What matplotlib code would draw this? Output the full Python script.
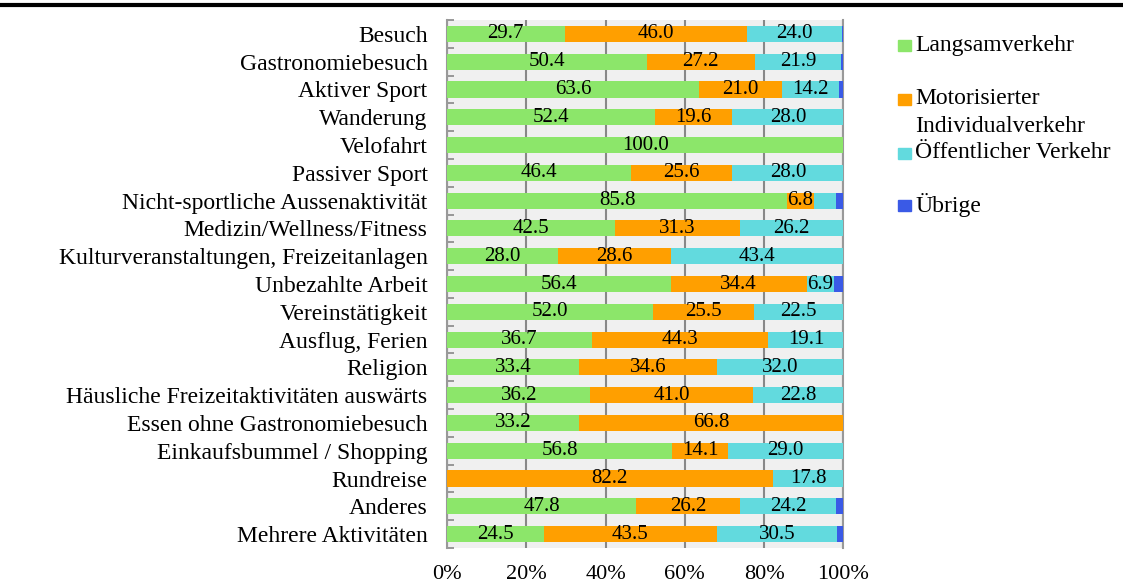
import numpy as np
import matplotlib.pyplot as plt
from matplotlib.lines import Line2D
from matplotlib.patches import Rectangle

plt.rcParams['font.family'] = ['Liberation Serif', 'DejaVu Serif']

categories = ['Besuch', 'Gastronomiebesuch', 'Aktiver Sport', 'Wanderung', 'Velofahrt',
              'Passiver Sport', 'Nicht-sportliche Aussenaktivität', 'Medizin/Wellness/Fitness',
              'Kulturveranstaltungen, Freizeitanlagen', 'Unbezahlte Arbeit', 'Vereinstätigkeit',
              'Ausflug, Ferien', 'Religion', 'Häusliche Freizeitaktivitäten auswärts',
              'Essen ohne Gastronomiebesuch', 'Einkaufsbummel / Shopping', 'Rundreise',
              'Anderes', 'Mehrere Aktivitäten']
langsam = [29.7, 50.4, 63.6, 52.4, 100.0, 46.4, 85.8, 42.5, 28.0, 56.4, 52.0, 36.7, 33.4, 36.2, 33.2, 56.8, 0.0, 47.8, 24.5]
miv = [46.0, 27.2, 21.0, 19.6, 0.0, 25.6, 6.8, 31.3, 28.6, 34.4, 25.5, 44.3, 34.6, 41.0, 66.8, 14.1, 82.2, 26.2, 43.5]
oev = [24.0, 21.9, 14.2, 28.0, 0.0, 28.0, 5.5, 26.2, 43.4, 6.9, 22.5, 19.1, 32.0, 22.8, 0.0, 29.0, 17.8, 24.2, 30.5]
uebrige = [0.3, 0.5, 1.2, 0.0, 0.0, 0.0, 1.9, 0.0, 0.0, 2.3, 0.0, 0.0, 0.0, 0.0, 0.0, 0.0, 0.0, 1.8, 1.5]
series = ['Langsamverkehr', 'Motorisierter\nIndividualverkehr', 'Öffentlicher Verkehr', 'Übrige']
colors = ['#8ce66a', '#ff9f00', '#62dade', '#3a5ae6']

fig = plt.figure(figsize=(11.23, 5.88), dpi=100)
ax = fig.add_axes([0.398, 0.068, 0.353, 0.898])
ax.set_facecolor('#f0f0f0')

y = np.arange(len(categories))
left = np.zeros(len(categories))
for vals, col in zip([langsam, miv, oev, uebrige], colors):
    vals = np.array(vals)
    ax.barh(y, vals, left=left, height=0.58, color=col, zorder=3)
    for yi, l, v in zip(y, left, vals):
        if v > 6:
            ax.text(l + v / 2, yi, f'{v:.1f}', ha='center', va='center', fontsize=15, zorder=4)
    left += vals

ax.set_xlim(0, 100)
ax.set_ylim(len(categories) - 0.5, -0.5)
ax.set_xticks([0, 20, 40, 60, 80, 100])
ax.set_xticklabels(['0%', '20%', '40%', '60%', '80%', '100%'], fontsize=16)
ax.set_yticks(y)
ax.set_yticklabels(categories, fontsize=17)
ax.set_yticks(np.arange(len(categories) + 1) - 0.5, minor=True)
ax.tick_params(axis='y', which='major', length=0, pad=14)
ax.tick_params(axis='y', which='minor', direction='in', length=5, color='#888888', width=1.2)
ax.tick_params(axis='x', length=0, pad=12.5)
ax.xaxis.grid(color='#888888', linewidth=1.5, zorder=1)
ax.set_axisbelow(True)
for s in ['top', 'bottom']:
    ax.spines[s].set_visible(False)
for s in ['left', 'right']:
    ax.spines[s].set_color('#999999')
    ax.spines[s].set_linewidth(1.5)

# legend drawn by hand
H = 588.0
W = 1123.0
leg_y = [45, 99, 153, 205]
for lab, col, yy in zip(series, colors, leg_y):
    fig.patches.append(Rectangle((898 / W, 1 - (yy + 6) / H), 13 / W, 11 / H,
                                 transform=fig.transFigure, color=col))
    lines = lab.split('\n')
    for k, ln in enumerate(lines):
        fig.text(915 / W, 1 - (yy + k * 27) / H, ln, fontsize=17, va='center', ha='left')

fig.add_artist(Line2D([0, 1], [1 - 5 / H, 1 - 5 / H], transform=fig.transFigure, color='black', lw=3))

fig.savefig('out.png', dpi=100)
